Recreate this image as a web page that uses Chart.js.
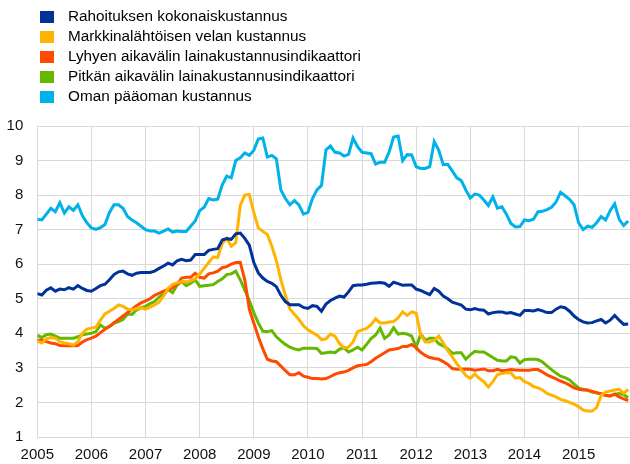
<!DOCTYPE html>
<html>
<head>
<meta charset="utf-8">
<script src="https://cdn.jsdelivr.net/npm/chart.js@4/dist/chart.umd.min.js"></script>
<style>
  html, body { margin: 0; padding: 0; background: #fff; }
  #wrap { position: relative; width: 630px; height: 464px; }
  #legend { position: absolute; left: 40px; top: 6px; font-family: "Liberation Sans", Arial, sans-serif; font-size: 15.3px; color: #000; }
  .li { position: relative; height: 19.9px; line-height: 20px; white-space: nowrap; }
  .sw { position: absolute; left: 0; top: 5px; width: 14px; height: 12px; }
  .tx { position: absolute; left: 28px; top: 0; }
</style>
</head>
<body>
<div id="wrap">
  <canvas id="c" width="630" height="464"></canvas>
  <div id="legend"></div>
</div>
<script>
const seriesNames = [
  "Rahoituksen kokonaiskustannus",
  "Markkinalähtöisen velan kustannus",
  "Lyhyen aikavälin lainakustannusindikaattori",
  "Pitkän aikavälin lainakustannusindikaattori",
  "Oman pääoman kustannus"
];
const seriesColors = ["#003299", "#ffb400", "#ff4b00", "#65b800", "#00b1ea"];
const yearLabels = [2005, 2006, 2007, 2008, 2009, 2010, 2011, 2012, 2013, 2014, 2015];
const firstYear = 2005;

// Monthly values, Jan 2005 - Dec 2015
const rahoitus = [
  5.15, 5.11, 5.25, 5.32, 5.22, 5.28, 5.26, 5.32, 5.28, 5.38, 5.30, 5.24,
  5.22, 5.30, 5.38, 5.42, 5.55, 5.70, 5.78, 5.80, 5.72, 5.68, 5.74, 5.76,
  5.76, 5.76, 5.80, 5.88, 5.95, 6.03, 5.98, 6.10, 6.14, 6.10, 6.12, 6.28,
  6.28, 6.28, 6.40, 6.43, 6.45, 6.70, 6.74, 6.72, 6.88, 6.90, 6.75, 6.55,
  6.05, 5.75, 5.60, 5.50, 5.45, 5.35, 5.10, 4.92, 4.83, 4.83, 4.83, 4.75,
  4.72, 4.80, 4.78, 4.64, 4.85, 4.95, 5.02, 5.08, 5.05, 5.20, 5.38, 5.40,
  5.40, 5.42, 5.45, 5.46, 5.47, 5.45, 5.36, 5.48, 5.44, 5.39, 5.40, 5.40,
  5.28, 5.24, 5.18, 5.12, 5.30, 5.22, 5.08, 5.00, 4.90, 4.86, 4.82, 4.70,
  4.68, 4.72, 4.68, 4.67, 4.56, 4.60, 4.62, 4.62, 4.58, 4.60, 4.56, 4.52,
  4.66, 4.66, 4.65, 4.69, 4.65, 4.60, 4.60, 4.70, 4.77, 4.74, 4.64, 4.50,
  4.40, 4.33, 4.30, 4.31, 4.36, 4.40, 4.30, 4.38, 4.52, 4.38, 4.26, 4.27
];
const markkina = [
  3.78, 3.72, 3.84, 3.88, 3.86, 3.76, 3.72, 3.70, 3.66, 3.76, 4.00, 4.12,
  4.15, 4.18, 4.38, 4.56, 4.64, 4.72, 4.82, 4.78, 4.70, 4.68, 4.72, 4.74,
  4.70, 4.76, 4.82, 4.90, 5.08, 5.30, 5.42, 5.46, 5.50, 5.49, 5.52, 5.58,
  5.72, 5.88, 6.05, 6.21, 6.20, 6.60, 6.75, 6.52, 6.62, 7.70, 8.00, 8.02,
  7.50, 7.05, 6.95, 6.86, 6.52, 6.10, 5.55, 5.10, 4.70, 4.55, 4.40, 4.22,
  4.10, 4.02, 3.95, 3.82, 3.84, 3.98, 3.92, 3.70, 3.58, 3.60, 3.75, 4.05,
  4.10, 4.14, 4.25, 4.42, 4.30, 4.30, 4.33, 4.34, 4.45, 4.62, 4.52, 4.62,
  4.58, 3.95, 3.75, 3.75, 3.80, 3.92, 3.72, 3.50, 3.32, 3.12, 2.95, 2.78,
  2.70, 2.82, 2.70, 2.60, 2.45, 2.60, 2.80, 2.84, 2.86, 2.86, 2.70, 2.72,
  2.60, 2.55, 2.46, 2.42, 2.36, 2.26, 2.21, 2.16, 2.09, 2.05, 2.00, 1.95,
  1.88, 1.78, 1.75, 1.75, 1.85, 2.20, 2.30, 2.33, 2.36, 2.38, 2.26, 2.38
];
const lyhyt = [
  3.80, 3.80, 3.76, 3.72, 3.70, 3.65, 3.64, 3.64, 3.64, 3.65, 3.75, 3.82,
  3.86, 3.92, 4.02, 4.12, 4.20, 4.30, 4.40, 4.50, 4.60, 4.70, 4.80, 4.88,
  4.94, 5.00, 5.10, 5.16, 5.22, 5.26, 5.32, 5.42, 5.60, 5.62, 5.62, 5.74,
  5.62, 5.60, 5.72, 5.75, 5.80, 5.90, 5.93, 6.00, 6.05, 6.05, 5.55, 4.70,
  4.30, 3.90, 3.55, 3.25, 3.20, 3.18, 3.05, 2.92, 2.80, 2.80, 2.86, 2.76,
  2.73, 2.69, 2.69, 2.68, 2.69, 2.75, 2.82, 2.86, 2.88, 2.93, 3.00, 3.06,
  3.08, 3.10, 3.18, 3.28, 3.36, 3.44, 3.52, 3.54, 3.56, 3.62, 3.62, 3.68,
  3.58, 3.45, 3.36, 3.30, 3.27, 3.25, 3.18, 3.10, 2.98, 2.96, 2.96, 2.97,
  2.96, 2.93, 2.95, 2.97, 2.92, 2.92, 2.96, 2.92, 2.93, 2.95, 2.94, 2.93,
  2.93, 2.93, 2.95, 2.95, 2.88, 2.80, 2.74, 2.68, 2.62, 2.57, 2.50, 2.42,
  2.38, 2.36, 2.36, 2.32, 2.28, 2.25, 2.21, 2.19, 2.24, 2.16, 2.10, 2.05
];
const pitka = [
  3.94, 3.88, 3.96, 3.98, 3.92, 3.86, 3.86, 3.86, 3.86, 3.90, 3.96, 3.98,
  4.00, 4.05, 4.24, 4.15, 4.20, 4.30, 4.34, 4.40, 4.56, 4.55, 4.68, 4.74,
  4.78, 4.86, 4.92, 5.05, 5.14, 5.26, 5.18, 5.40, 5.50, 5.38, 5.45, 5.55,
  5.36, 5.38, 5.39, 5.41, 5.50, 5.58, 5.70, 5.72, 5.80, 5.55, 5.25, 4.95,
  4.60, 4.30, 4.06, 4.05, 4.08, 3.90, 3.78, 3.68, 3.60, 3.55, 3.52, 3.57,
  3.57, 3.57, 3.56, 3.42, 3.44, 3.46, 3.44, 3.54, 3.58, 3.46, 3.52, 3.60,
  3.52, 3.68, 3.85, 3.95, 4.15, 3.85, 3.95, 4.16, 3.98, 4.00, 3.98, 3.92,
  3.60, 3.98, 3.80, 3.86, 3.86, 3.70, 3.64, 3.55, 3.42, 3.44, 3.44, 3.25,
  3.38, 3.48, 3.46, 3.46, 3.38, 3.30, 3.22, 3.20, 3.20, 3.32, 3.30, 3.14,
  3.24, 3.25, 3.25, 3.24, 3.17, 3.06, 2.95, 2.85, 2.76, 2.72, 2.65, 2.53,
  2.42, 2.38, 2.35, 2.30, 2.28, 2.24, 2.20, 2.19, 2.24, 2.26, 2.22, 2.14
];
const omaPaaoma = [
  7.30, 7.28, 7.45, 7.62, 7.52, 7.78, 7.48, 7.66, 7.56, 7.72, 7.40, 7.20,
  7.05, 7.01, 7.06, 7.15, 7.50, 7.72, 7.72, 7.62, 7.38, 7.28, 7.20, 7.10,
  7.00, 6.96, 6.96, 6.90, 6.96, 7.02, 6.93, 6.96, 6.95, 6.95, 7.10, 7.25,
  7.55, 7.65, 7.90, 7.86, 7.88, 8.30, 8.55, 8.50, 9.00, 9.08, 9.22, 9.15,
  9.30, 9.62, 9.65, 9.10, 9.15, 9.05, 8.15, 7.90, 7.72, 7.84, 7.72, 7.45,
  7.50, 7.90, 8.15, 8.28, 9.31, 9.42, 9.24, 9.22, 9.13, 9.18, 9.65, 9.40,
  9.24, 9.22, 9.20, 8.90, 8.95, 8.95, 9.25, 9.68, 9.71, 9.00, 9.17, 9.16,
  8.82, 8.77, 8.77, 8.82, 9.55, 9.30, 8.88, 8.89, 8.70, 8.50, 8.42, 8.15,
  7.92, 8.03, 8.00, 7.86, 7.70, 7.95, 7.62, 7.66, 7.45, 7.18, 7.08, 7.09,
  7.28, 7.26, 7.30, 7.52, 7.53, 7.58, 7.65, 7.80, 8.08, 7.98, 7.88, 7.72,
  7.20, 7.00, 7.10, 7.07, 7.20, 7.38, 7.28, 7.55, 7.75, 7.30, 7.12, 7.25
];

const allSeries = [rahoitus, markkina, lyhyt, pitka, omaPaaoma];
const toPoints = arr => arr.map((v, i) => ({ x: firstYear + i / 12, y: v }));

// HTML legend
const leg = document.getElementById('legend');
seriesNames.forEach((n, i) => {
  const d = document.createElement('div');
  d.className = 'li';
  d.innerHTML = '<span class="sw" style="background:' + seriesColors[i] + '"></span><span class="tx">' + n + '</span>';
  leg.appendChild(d);
});

const gridColor = '#d9d9d9';
new Chart(document.getElementById('c'), {
  type: 'line',
  data: {
    datasets: allSeries.map((arr, i) => ({
      label: seriesNames[i],
      data: toPoints(arr),
      borderColor: seriesColors[i],
      backgroundColor: seriesColors[i],
      borderWidth: 3,
      pointRadius: 0,
      tension: 0,
      fill: false
    }))
  },
  options: {
    responsive: false,
    animation: false,
    events: [],
    layout: { padding: { top: 126, right: 0, left: 0, bottom: 0 } },
    plugins: { legend: { display: false }, tooltip: { enabled: false } },
    scales: {
      x: {
        type: 'linear',
        min: 2005,
        max: 2015.95,
        afterFit: s => { s.height = 27; },
        afterBuildTicks: s => { s.ticks = yearLabels.map(v => ({ value: v })); },
        grid: { color: gridColor, lineWidth: 1, drawTicks: false },
        border: { color: gridColor, width: 1 },
        ticks: {
          autoSkip: false, maxRotation: 0, padding: 9,
          color: '#111',
          font: { family: 'Liberation Sans', size: 15 },
          callback: v => String(v)
        }
      },
      y: {
        min: 1,
        max: 10,
        afterFit: s => { s.width = 37.3; },
        grid: { color: gridColor, lineWidth: 1, drawTicks: false },
        border: { color: gridColor, width: 1 },
        ticks: {
          stepSize: 1, padding: 14,
          color: '#111',
          font: { family: 'Liberation Sans', size: 15 }
        }
      }
    }
  }
});
</script>
</body>
</html>
